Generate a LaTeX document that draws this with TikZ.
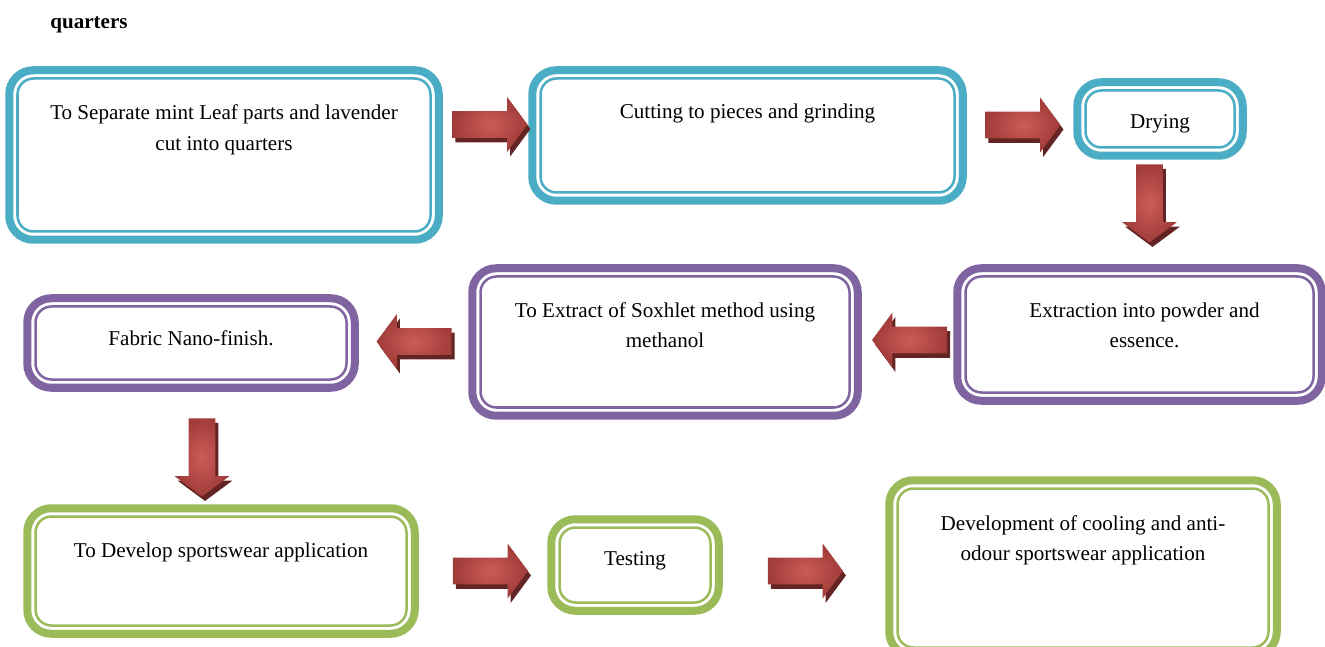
\documentclass[tikz,border=0pt]{standalone}
\usepackage{fontspec}
\setmainfont{Liberation Serif}
\usetikzlibrary{shapes.arrows,shadows}

\definecolor{frameblue}{RGB}{75,172,198}
\definecolor{framepurple}{RGB}{128,100,162}
\definecolor{framegreen}{RGB}{155,187,89}
\definecolor{arrowlight}{RGB}{205,92,88}
\definecolor{arrowedge}{RGB}{160,60,57}
\definecolor{arrowshade}{RGB}{99,36,35}

\tikzset{
  stepbox/.style={draw=#1, line width=0.05cm, rounded corners=0.32cm,
    outer sep=0pt, inner sep=0pt},
  steptext/.style={anchor=north, align=center, inner sep=0pt,
    font=\fontsize{12}{17.6}\selectfont},
  blockarrow/.style={single arrow, inner color=arrowlight, outer color=arrowedge,
    minimum height=1.5cm, minimum width=0pt, inner xsep=0pt, inner ysep=0.26cm,
    single arrow head extend=0.28cm, single arrow tip angle=107,
    drop shadow={shadow xshift=0.06cm, shadow yshift=-0.09cm,
      fill=arrowshade, opacity=1}},
  downarrow/.style={blockarrow, shape border rotate=270, minimum height=1.56cm,
    inner xsep=0.26cm, inner ysep=0pt},
}

\begin{document}
\begin{tikzpicture}

\useasboundingbox (0,0) rectangle (26.5,-12.94);
\clip (0,0) rectangle (26.5,-12.94);

\node[anchor=base west, inner sep=0pt, font=\fontsize{12}{14}\selectfont\bfseries]
  (title) at (1.0,-0.57) {quarters};

% first row
\node[stepbox=frameblue, minimum width=8.26cm, minimum height=3.06cm] (separate) at (4.48,-3.10) {};
\node[stepbox=frameblue, minimum width=8.28cm, minimum height=2.28cm] (grinding) at (14.95,-2.71) {};
\node[stepbox=frameblue, minimum width=2.98cm, minimum height=1.14cm] (drying) at (23.2,-2.38) {};

% second row
\node[stepbox=framepurple, minimum width=6.96cm, minimum height=2.32cm] (powder) at (22.79,-6.69) {};
\node[stepbox=framepurple, minimum width=7.38cm, minimum height=2.62cm] (soxhlet) at (13.3,-6.84) {};
\node[stepbox=framepurple, minimum width=6.22cm, minimum height=1.46cm] (finish) at (3.82,-6.86) {};

% third row
\node[stepbox=framegreen, minimum width=7.42cm, minimum height=2.18cm] (develop) at (4.42,-11.42) {};
\node[stepbox=framegreen, minimum width=3.02cm, minimum height=1.5cm] (testing) at (12.7,-11.3) {};
\node[stepbox=framegreen, minimum width=7.42cm, minimum height=3.18cm] (result) at (21.66,-11.36) {};

\foreach \n/\c in {separate/frameblue,grinding/frameblue,drying/frameblue,
    powder/framepurple,soxhlet/framepurple,finish/framepurple,
    develop/framegreen,testing/framegreen,result/framegreen}{
  \draw[color=\c, line width=0.16cm, rounded corners=0.48cm]
    ([shift={(-0.165,0.165)}]\n.north west) rectangle ([shift={(0.165,-0.165)}]\n.south east);
}

\node[steptext] (separatetxt) at ([yshift=-0.38cm]separate.north)
  {\strut To Separate mint Leaf parts and lavender\\cut into quarters};
\node[steptext] (grindingtxt) at ([yshift=-0.36cm]grinding.north)
  {\strut Cutting to pieces and grinding};
\node[steptext] (dryingtxt) at ([yshift=-0.32cm]drying.north) {\strut Drying};
\node[steptext] (powdertxt) at ([xshift=0.1cm,yshift=-0.37cm]powder.north)
  {\strut Extraction into powder and\\essence.};
\node[steptext] (soxhlettxt) at ([yshift=-0.37cm]soxhlet.north)
  {\strut To Extract of Soxhlet method using\\methanol};
\node[steptext] (finishtxt) at ([yshift=-0.34cm]finish.north) {\strut Fabric Nano-finish.};
\node[steptext] (developtxt) at ([yshift=-0.37cm]develop.north)
  {\strut To Develop sportswear application};
\node[steptext] (testingtxt) at ([yshift=-0.32cm]testing.north) {\strut Testing};
\node[steptext] (resulttxt) at ([yshift=-0.39cm]result.north)
  {\strut Development of cooling and anti-\\odour sportswear application};

% block arrows
\node[blockarrow] (a1) at (9.7,-2.49) {};
\node[blockarrow] (a2) at (20.36,-2.5) {};
\node[downarrow] (a3) at (22.99,-3.97) {};
\node[blockarrow, shape border rotate=180] (a4) at (18.29,-6.8) {};
\node[blockarrow, shape border rotate=180] (a5) at (8.38,-6.83) {};
\node[downarrow] (a6) at (4.04,-9.05) {};
\node[blockarrow] (a7) at (9.71,-11.42) {};
\node[blockarrow] (a8) at (16.01,-11.42) {};

\end{tikzpicture}
\end{document}
